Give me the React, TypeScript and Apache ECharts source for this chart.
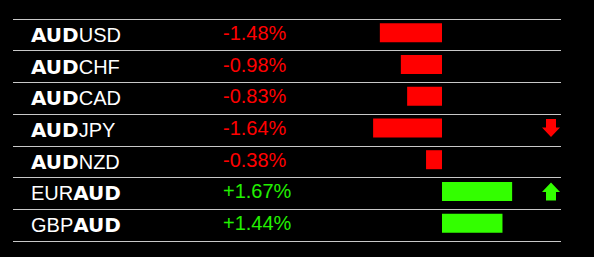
import React, { useEffect, useRef } from "react";
import * as echarts from "echarts";

const pairs = ["AUDUSD", "AUDCHF", "AUDCAD", "AUDJPY", "AUDNZD", "EURAUD", "GBPAUD"];
const changes = [-1.48, -0.98, -0.83, -1.64, -0.38, 1.67, 1.44];
const signals = [0, 0, 0, -1, 0, 1, 0];

const RED = "#ff0000";
const GREEN = "#33ff00";
const TEXT_GREEN = "#22f000";
const UP = "path://M9,0L18,9.5L14,9.5L14,18L4,18L4,9.5L0,9.5Z";
const DOWN = "path://M4,0L14,0L14,8.5L18,8.5L9,18L0,8.5L4,8.5Z";

const pctLabels = changes.map((v) => (v > 0 ? "+" : "") + v.toFixed(2) + "%");

export default function App() {
  const ref = useRef<HTMLDivElement>(null);
  useEffect(() => {
    if (!ref.current) return;
    const chart = echarts.init(ref.current, undefined, { renderer: "svg" });
    chart.setOption({
      animation: false,
      backgroundColor: "#000000",
      grid: [
        { left: 13, right: 33, top: 19, bottom: 16 },
        { left: 358, right: 68, top: 17, bottom: 18 },
        { left: 542, width: 18, top: 17, bottom: 18 },
      ],
      xAxis: [
        { gridIndex: 0, type: "value", show: false, min: 0, max: 1 },
        { gridIndex: 1, type: "value", show: false, min: -2, max: 2 },
        { gridIndex: 2, type: "value", show: false, min: -1, max: 1 },
      ],
      yAxis: [
        {
          gridIndex: 0,
          type: "category",
          inverse: true,
          data: pairs,
          axisLine: { show: false },
          axisTick: { show: false },
          splitLine: { show: true, lineStyle: { color: "#c8c8c8", width: 1 } },
          axisLabel: {
            align: "left",
            margin: -18,
            formatter: (v: string) =>
              v.startsWith("AUD") ? `{b|AUD}{r|${v.slice(3)}}` : `{r|${v.slice(0, 3)}}{b|AUD}`,
            rich: {
              b: { fontFamily: "DejaVu Sans", fontWeight: "bold", fontSize: 20, color: "#ffffff" },
              r: { fontFamily: "Liberation Sans", fontSize: 20, color: "#ffffff" },
            },
          },
        },
        {
          gridIndex: 1,
          type: "category",
          inverse: true,
          data: pctLabels,
          axisLine: { show: false },
          axisTick: { show: false },
          splitLine: { show: false },
          axisLabel: {
            align: "left",
            margin: 135,
            formatter: (v: string) => (v.startsWith("-") ? `{n|${v}}` : `{p|${v}}`),
            rich: {
              n: { fontFamily: "Liberation Sans", fontSize: 20, color: RED },
              p: { fontFamily: "Liberation Sans", fontSize: 20, color: TEXT_GREEN },
            },
          },
        },
        { gridIndex: 2, type: "category", inverse: true, data: pairs, show: false },
      ],
      series: [
        {
          type: "bar",
          xAxisIndex: 1,
          yAxisIndex: 1,
          barWidth: 19,
          silent: true,
          data: changes.map((v) => ({ value: v, itemStyle: { color: v < 0 ? RED : GREEN } })),
        },
        {
          type: "scatter",
          xAxisIndex: 2,
          yAxisIndex: 2,
          silent: true,
          symbolSize: [18, 18],
          itemStyle: { opacity: 1 },
          data: signals
            .map((s, i) =>
              s !== 0
                ? {
                    value: [0, i],
                    symbol: s > 0 ? UP : DOWN,
                    itemStyle: { color: s > 0 ? GREEN : RED, opacity: 1 },
                  }
                : null
            )
            .filter((d) => d !== null),
        },
      ],
    });
    return () => chart.dispose();
  }, []);
  return (
    <div
      ref={ref}
      style={{ position: "fixed", left: 0, top: 0, width: 594, height: 257, background: "#000" }}
    />
  );
}
